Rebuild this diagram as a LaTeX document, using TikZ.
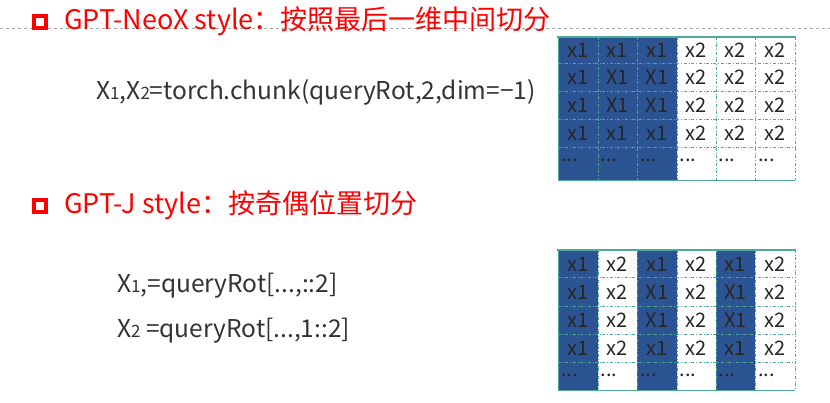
\documentclass[tikz,border=0pt]{standalone}
\usepackage{fontspec}
\setmainfont{Noto Sans CJK SC}
\definecolor{cblue}{HTML}{2C5493}
\definecolor{cteal}{HTML}{4FA99A}
\definecolor{cred}{HTML}{FF0000}
\newcommand{\sm}[1]{{\fontsize{17}{17}\selectfont #1}}
\begin{document}
\begin{tikzpicture}[x=1pt,y=-1pt,
  title/.style={anchor=west,text=cred,font=\fontsize{27}{30}\selectfont,inner sep=0},
  code/.style={anchor=west,text=black!80,font=\fontsize{24.5}{28}\selectfont,inner sep=0},
  cell/.style={font=\fontsize{20}{22}\selectfont,text=black!85,inner sep=0},
  chk/.style={draw=cred,line width=3.2pt,minimum size=12pt,inner sep=0}]
\useasboundingbox (0,0) rectangle (830,402);
\fill[white] (0,0) rectangle (830,402);
\draw[gray!70,dashed,line width=0.5pt] (0,28) -- (830,28);
% titles
\node[chk] (c1) at (40,22) {};
\node[title] (t1) at (64,21) {GPT-NeoX style：按照最后一维中间切分};
\node[code] (k1) at (96,92) {X\sm{1},X\sm{2}=torch.chunk(queryRot,2,dim=−1)};
\node[chk] (c2) at (40,206) {};
\node[title] (t2) at (64,205) {GPT-J style：按奇偶位置切分};
\node[code] (k2) at (117,286) {X\sm{1},=queryRot[...,::2]};
\node[code] (k3) at (117,331) {X\sm{2} =queryRot[...,1::2]};
% grids
\foreach \gy/\ra/\rb/\rc/\rd/\re/\rf/\mode in {0/37/63/91/119/147/180/1, 1/250/277/306/334/362/390/2}{
  \ifnum\mode=1
    \fill[cblue] (558,\ra) rectangle (677,\rf);
  \else
    \fill[cblue] (558,\ra) rectangle (598,\rf);
    \fill[cblue] (637,\ra) rectangle (677,\rf);
    \fill[cblue] (716,\ra) rectangle (755,\rf);
  \fi
  \foreach \x in {598,637,677,716,755,795}
    \draw[cteal,dash dot,line width=0.6pt] (\x,\ra) -- (\x,\rf);
  \foreach \y in {\rb,\rc,\rd,\re}
    \draw[cteal,dash dot,line width=0.6pt] (558,\y) -- (795,\y);
  \draw[cteal,line width=1.4pt] (557,\ra) -- (796,\ra);
  \draw[cteal,line width=0.8pt] (558,\ra) -- (558,\rf) -- (795,\rf);
}
% grid 1 text
\foreach \c/\xc in {1/578,2/617.5,3/657,4/696.5,5/735.5,6/775}{
  \foreach \r/\yc in {1/50,2/77,3/105,4/133}{
    \pgfmathtruncatemacro{\isone}{\c<4}
    \ifnum\isone=1
      \ifnum\c=1 \def\lab{x1}\else
        \ifnum\r=2 \def\lab{X1}\else\ifnum\r=3 \def\lab{X1}\else\def\lab{x1}\fi\fi\fi
    \else \def\lab{x2}\fi
    \node[cell] (a\c\r) at (\xc,\yc) {\lab};
  }
  \node[cell,anchor=west] (a\c5) at (\xc-17,160) {...};
}
% grid 2 text
\foreach \c/\xc in {1/578,2/617.5,3/657,4/696.5,5/735.5,6/775}{
  \foreach \r/\yc in {1/264,2/292,3/320,4/348}{
    \pgfmathtruncatemacro{\odd}{mod(\c,2)}
    \ifnum\odd=1
      \ifnum\c=1 \def\lab{x1}\else
        \ifnum\r=2 \def\lab{X1}\else\ifnum\r=3 \def\lab{X1}\else\def\lab{x1}\fi\fi\fi
    \else \def\lab{x2}\fi
    \node[cell] (b\c\r) at (\xc,\yc) {\lab};
  }
  \node[cell,anchor=west] (b\c5) at (\xc-17,375) {...};
}
\end{tikzpicture}
\end{document}
